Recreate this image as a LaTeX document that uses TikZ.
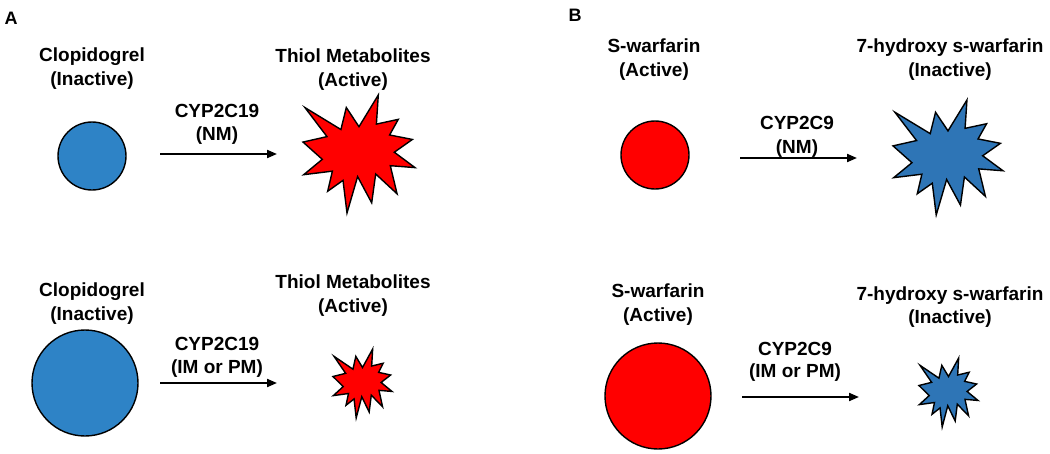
\documentclass[tikz,border=0pt]{standalone}
\usepackage{fontspec}
\setmainfont{Liberation Sans}
\usetikzlibrary{arrows.meta}
\definecolor{cblue}{RGB}{46,131,198}
\definecolor{sblue}{RGB}{46,117,182}
\definecolor{cred}{RGB}{255,0,0}
\newcommand{\burst}[6]{%
  \begin{scope}[shift={(#2,#3)}, xscale=#4/216, yscale=#5/216]
    \draw[shapeline, fill=#6] (108,58) -- (145.22,0) -- (141.55,53.25) -- (183.80,44.57) -- (167.02,73.15) -- (210.97,81.37) -- (176.07,104.75) -- (216,132.90) -- (168.37,129.42) -- (181.45,180.95) -- (140.20,144.57) -- (132.47,197.37) -- (105.32,149.35) -- (84.85,216) -- (77.15,156.27) -- (47.62,176.17) -- (56.67,139.37) -- (1.35,145.87) -- (37.22,117.75) -- (0,86.15) -- (46.27,76.17) -- (3.70,22.95) -- (73.12,63.20) -- (83.52,22.95) -- cycle;
    \coordinate (#1) at (108,108);
  \end{scope}}
\begin{document}
\begin{tikzpicture}[x=1pt,y=-1pt,
  lab/.style={font=\fontsize{19}{23}\selectfont\bfseries, anchor=base, inner sep=0pt},
  panel/.style={font=\fontsize{18}{21}\selectfont\bfseries, anchor=base, inner sep=0pt},
  shapeline/.style={draw=black, line width=1.4pt, line join=miter},
  arr/.style={line width=2pt, -{Triangle[length=10pt,width=8pt]}}]
\useasboundingbox (0,0) rectangle (1050,453);

% Panel letters
\node[panel] (pA) at (11,24) {A};
\node[panel] (pB) at (575,21) {B};

% ---------- Panel A, row 1 ----------
\node[lab] (a1t1) at (92,61) {Clopidogrel};
\node[lab] (a1t2) at (92,85) {(Inactive)};
\node[circle, shapeline, fill=cblue, minimum size=68pt, inner sep=0pt] (a1c) at (92,156) {};
\coordinate (a1s) at (160,154);
\coordinate (a1e) at (277,154);
\draw[arr] (a1s) -- (a1e);
\node[lab] (a1e1) at (217,117) {CYP2C19};
\node[lab] (a1e2) at (217,140) {(NM)};
\node[lab] (a1m1) at (353,62) {Thiol Metabolites};
\node[lab] (a1m2) at (353,86) {(Active)};
\burst{a1b}{303}{95}{112}{118}{cred}

% ---------- Panel A, row 2 ----------
\node[lab] (a2t1) at (92,296) {Clopidogrel};
\node[lab] (a2t2) at (92,320) {(Inactive)};
\node[circle, shapeline, fill=cblue, minimum size=106pt, inner sep=0pt] (a2c) at (85,383) {};
\coordinate (a2s) at (160,383);
\coordinate (a2e) at (277,383);
\draw[arr] (a2s) -- (a2e);
\node[lab] (a2e1) at (217,350) {CYP2C19};
\node[lab] (a2e2) at (217,373) {(IM or PM)};
\node[lab] (a2m1) at (353,288) {Thiol Metabolites};
\node[lab] (a2m2) at (353,312) {(Active)};
\burst{a2b}{333}{349}{59}{69}{cred}

% ---------- Panel B, row 1 ----------
\node[lab] (b1t1) at (654,52) {S-warfarin};
\node[lab] (b1t2) at (654,76) {(Active)};
\node[circle, shapeline, fill=cred, minimum size=68pt, inner sep=0pt] (b1c) at (655,155) {};
\coordinate (b1s) at (740,158);
\coordinate (b1e) at (857,158);
\draw[arr] (b1s) -- (b1e);
\node[lab] (b1e1) at (797,129) {CYP2C9};
\node[lab] (b1e2) at (797,153) {(NM)};
\node[lab] (b1m1) at (950,52) {7-hydroxy s-warfarin};
\node[lab] (b1m2) at (950,76) {(Inactive)};
\burst{b1b}{893}{100}{110}{115}{sblue}

% ---------- Panel B, row 2 ----------
\node[lab] (b2t1) at (658,297) {S-warfarin};
\node[lab] (b2t2) at (658,321) {(Active)};
\node[circle, shapeline, fill=cred, minimum size=106pt, inner sep=0pt] (b2c) at (658,396) {};
\coordinate (b2s) at (742,397);
\coordinate (b2e) at (859,397);
\draw[arr] (b2s) -- (b2e);
\node[lab] (b2e1) at (795,355) {CYP2C9};
\node[lab] (b2e2) at (795,377) {(IM or PM)};
\node[lab] (b2m1) at (950,300) {7-hydroxy s-warfarin};
\node[lab] (b2m2) at (950,323) {(Inactive)};
\burst{b2b}{919}{358}{59}{69}{sblue}
\end{tikzpicture}
\end{document}
